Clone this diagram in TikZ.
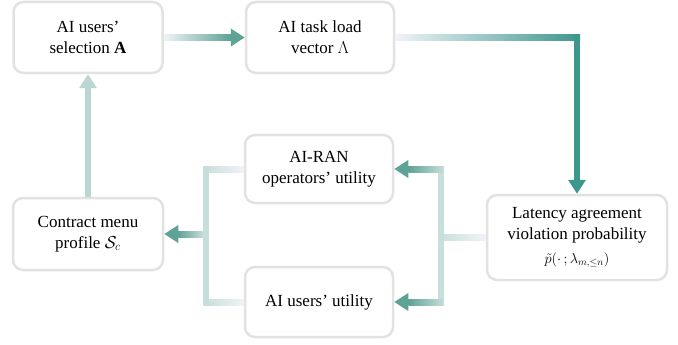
\documentclass[tikz,border=0pt]{standalone}
\usepackage{fontspec}
\setmainfont{Liberation Serif}
\usetikzlibrary{arrows.meta,calc}

\definecolor{fadecol}{HTML}{F0F3F8}
\definecolor{tealmd}{HTML}{5FA296}
\definecolor{tealdk}{HTML}{3E978B}
\definecolor{teallt}{HTML}{C7DEDB}
\definecolor{uplt}{HTML}{B9D6D2}
\definecolor{boxline}{HTML}{E2E2E2}

\begin{document}
\begin{tikzpicture}[x=1pt, y=-1pt,
  main_box/.style={draw=boxline, line width=2.5pt, rounded corners=10pt, fill=white, align=center, inner sep=0pt, font=\fontsize{17}{21}\selectfont},
  link/.style={line width=6pt},
  arrow_tip/.style={-{Triangle[width=17pt,length=14pt]}}]

  \useasboundingbox (0,0) rectangle (678,345);

  \node[main_box, minimum width=149pt, minimum height=71pt] (sel) at (88,37.5) {AI users’\\ selection $\mathbf{A}$};
  \node[main_box, minimum width=148pt, minimum height=71pt] (load) at (320,37.5) {AI task load\\ vector $\Lambda$};
  \node[main_box, minimum width=180pt, minimum height=85pt] (lat) at (577,237.5) {Latency agreement\\ violation probability\\[3pt] {\fontsize{14.5}{21}\selectfont$\tilde{p}(\cdot\,;\lambda_{m,\leq n})$}};
  \node[main_box, minimum width=150pt, minimum height=72pt] (menu) at (88,234) {Contract menu\\ profile $\mathcal{S}_c$};
  \node[main_box, minimum width=148pt, minimum height=68pt] (ran) at (319,169) {AI-RAN\\ operators’ utility};
  \node[main_box, minimum width=148pt, minimum height=70pt] (util) at (319,302) {AI users’ utility};

  % selection -> load
  \shade[left color=fadecol, right color=tealmd] ($(sel.east)+(0,-3)$) rectangle ($(load.west)+(-14,3)$);
  \draw[link, tealmd, arrow_tip] ($(load.west)+(-15,0)$) -- (load.west);

  % load -> latency
  \coordinate (c1) at (lat.north |- load.east);
  \shade[left color=fadecol, right color=tealdk] ($(load.east)+(0,-3)$) rectangle ($(c1)+(3,3)$);
  \draw[link, tealdk, arrow_tip] ($(c1)+(0,-3)$) -- (lat.north);

  % menu -> selection
  \draw[link, uplt, arrow_tip] (menu.north) -- (sel.south);

  % latency -> utilities
  \coordinate (rb) at ($(lat.west)+(-45,0)$);
  \coordinate (rt) at (rb |- ran.east);
  \coordinate (rd) at (rb |- util.east);
  \shade[left color=teallt, right color=fadecol] ($(rb)+(-3,-3)$) rectangle ($(lat.west)+(0,3)$);
  \draw[link, teallt] ($(rt)+(0,-3)$) -- ($(rd)+(0,3)$);
  \shade[left color=tealmd, right color=teallt] ($(ran.east)+(14,-3)$) rectangle ($(rt)+(3,3)$);
  \draw[link, tealmd, arrow_tip] ($(ran.east)+(15,0)$) -- (ran.east);
  \shade[left color=tealmd, right color=teallt] ($(util.east)+(14,-3)$) rectangle ($(rd)+(3,3)$);
  \draw[link, tealmd, arrow_tip] ($(util.east)+(15,0)$) -- (util.east);

  % utilities -> menu
  \coordinate (lb) at ($(menu.east)+(42,0)$);
  \coordinate (lt) at (lb |- ran.west);
  \coordinate (ld) at (lb |- util.west);
  \shade[left color=teallt, right color=fadecol] ($(lt)+(-3,-3)$) rectangle ($(ran.west)+(0,3)$);
  \shade[left color=teallt, right color=fadecol] ($(ld)+(-3,-3)$) rectangle ($(util.west)+(0,3)$);
  \draw[link, teallt] ($(lt)+(0,-3)$) -- ($(ld)+(0,3)$);
  \shade[left color=tealmd, right color=teallt] ($(menu.east)+(14,-3)$) rectangle ($(lb)+(-3,3)$);
  \draw[link, tealmd, arrow_tip] ($(menu.east)+(15,0)$) -- (menu.east);
\end{tikzpicture}
\end{document}
